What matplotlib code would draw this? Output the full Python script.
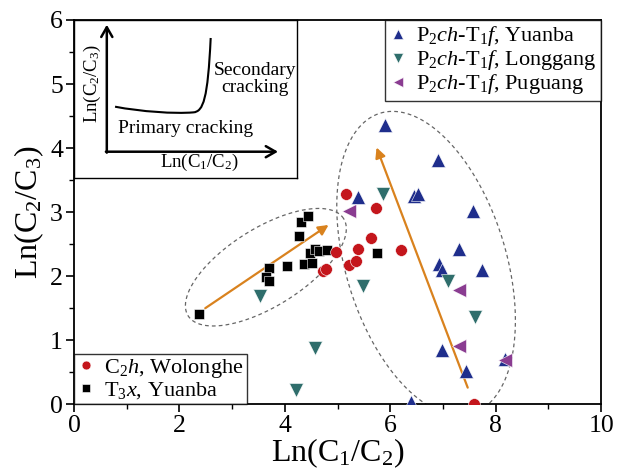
import numpy as np
import matplotlib.pyplot as plt
from matplotlib.path import Path
from matplotlib.patches import PathPatch
from matplotlib.ticker import MultipleLocator

plt.rcParams['font.family'] = ['Liberation Serif', 'DejaVu Serif']
plt.rcParams['mathtext.fontset'] = 'custom'
plt.rcParams['mathtext.rm'] = 'Liberation Serif'
plt.rcParams['mathtext.it'] = 'Liberation Serif:italic'

# Ln(C1/C2) vs Ln(C2/C3)
t3x_yuanba_x = [2.38, 3.69, 3.64, 3.70, 4.04, 4.27, 4.30, 4.43, 4.36, 4.51, 4.47, 4.57, 4.65, 4.80, 5.75]
t3x_yuanba_y = [1.41, 2.12, 1.98, 1.92, 2.16, 2.63, 2.85, 2.94, 2.19, 2.20, 2.36, 2.42, 2.40, 2.41, 2.36]

c2h_wolonghe_x = [4.72, 4.78, 4.98, 5.17, 5.22, 5.35, 5.38, 5.64, 5.73, 6.20, 7.58]
c2h_wolonghe_y = [2.08, 2.11, 2.38, 3.28, 2.17, 2.23, 2.42, 2.59, 3.06, 2.41, 0.00]

yuanba_x = [5.38, 5.91, 6.45, 6.52, 6.90, 7.57, 7.31, 6.93, 6.99, 7.74, 6.99, 7.44, 8.17, 6.39]
yuanba_y = [3.23, 4.36, 3.25, 3.29, 3.81, 3.01, 2.43, 2.19, 2.09, 2.10, 0.85, 0.52, 0.70, 0.03]

longgang_x = [3.53, 4.21, 4.57, 5.49, 5.86, 7.10, 7.60]
longgang_y = [1.69, 0.23, 0.88, 1.85, 3.28, 1.92, 1.37]

puguang_x = [5.21, 7.31, 7.31, 8.17]
puguang_y = [3.01, 1.78, 0.91, 0.69]

# trend arrows (start, end)
arrow_primary = [(2.49, 1.50), (4.83, 2.80)]
arrow_secondary = [(7.47, 0.26), (5.74, 4.01)]

# dashed envelopes: center, semi-axes (in x units), tilt in degrees
env_primary = dict(center=(3.64, 2.14), a=1.74, b=0.74, angle=32)
env_secondary = dict(center=(6.68, 2.20), a=2.98, b=1.52, angle=-73)

blue = '#1f2e8c'
teal = '#2f6e6c'
purple = '#8a3c91'
red = '#c4161c'
orange = '#d9821e'

fig = plt.figure(figsize=(6.19, 4.69), dpi=100)
ax = fig.add_axes([0.1196, 0.138, 0.8514, 0.8194])

def envelope(ax, center, a, b, angle):
    # ellipse drawn in screen-like units, then mapped back to data
    sx, sy = 52.7, 64.05
    t = np.linspace(0, 2 * np.pi, 300)
    th = np.deg2rad(angle)
    ex = a * np.cos(t) * np.cos(th) - b * np.sin(t) * np.sin(th)
    ey = a * np.cos(t) * np.sin(th) + b * np.sin(t) * np.cos(th)
    ax.plot(center[0] + ex, center[1] + ey * sx / sy, ls=(0, (3, 2.5)),
            color='#666666', lw=0.9, zorder=1)

envelope(ax, **env_primary)
envelope(ax, **env_secondary)

for (x0, y0), (x1, y1) in [arrow_primary, arrow_secondary]:
    ax.annotate('', xy=(x1, y1), xytext=(x0, y0),
                arrowprops=dict(arrowstyle='-|>,head_length=0.6,head_width=0.3',
                                color=orange, lw=1.6, shrinkA=0, shrinkB=0),
                zorder=2)

ax.plot(t3x_yuanba_x, t3x_yuanba_y, 's', color='black', ms=7.5, mec='white', mew=0.4,
        ls='none', zorder=3, label='T$_3$$x$, Yuanba')
ax.plot(c2h_wolonghe_x, c2h_wolonghe_y, 'o', color=red, ms=8.5, mec='white', mew=0.4,
        ls='none', zorder=3, label='C$_2$$h$, Wolonghe')
ax.plot(yuanba_x, yuanba_y, '^', color=blue, ms=9.5, mec='white', mew=0.4,
        ls='none', zorder=3, label='P$_2$$ch$-T$_1$$f$, Yuanba')
ax.plot(longgang_x, longgang_y, 'v', color=teal, ms=9.5, mec='white', mew=0.4,
        ls='none', zorder=3, label='P$_2$$ch$-T$_1$$f$, Longgang')
ax.plot(puguang_x, puguang_y, '<', color=purple, ms=9.5, mec='white', mew=0.4,
        ls='none', zorder=3, label='P$_2$$ch$-T$_1$$f$, Puguang')

ax.set_xlim(0, 10)
ax.set_ylim(0, 6)
ax.xaxis.set_major_locator(MultipleLocator(2))
ax.xaxis.set_minor_locator(MultipleLocator(1))
ax.yaxis.set_major_locator(MultipleLocator(1))
ax.yaxis.set_minor_locator(MultipleLocator(0.5))
ax.tick_params(which='major', direction='out', length=6, width=1.2, labelsize=18.5, pad=2)
ax.tick_params(which='minor', direction='out', length=3.5, width=1.0)
for s in ax.spines.values():
    s.set_linewidth(1.3)

ax.set_xlabel('Ln(C$_1$/C$_2$)', fontsize=23, labelpad=-1)
ax.set_ylabel('Ln(C$_2$/C$_3$)', fontsize=23, labelpad=3)

handles, labels = ax.get_legend_handles_labels()
leg1 = ax.legend(handles[2:], labels[2:], loc='upper right', fontsize=16, frameon=True,
                 fancybox=False, edgecolor='black', borderaxespad=0, handlelength=0.8,
                 handletextpad=0.4, labelspacing=0.0, borderpad=0.2, markerscale=0.75)
leg1.get_frame().set_linewidth(1.0)
ax.add_artist(leg1)
leg2 = ax.legend([handles[1], handles[0]], [labels[1], labels[0]], loc='lower left',
                 fontsize=16, frameon=True, fancybox=False, edgecolor='black',
                 borderaxespad=0, handlelength=0.8, handletextpad=0.4,
                 labelspacing=0.0, borderpad=0.15, markerscale=0.75)
leg2.get_frame().set_linewidth(1.0)

# schematic of cracking trend
ins = ax.inset_axes([0, 0.589, 0.423, 0.411])
ins.set_xlim(0, 1)
ins.set_ylim(0, 1)
ins.set_xticks([])
ins.set_yticks([])
for s in ins.spines.values():
    s.set_linewidth(1.0)
ox, oy = 0.147, 0.166
ins.annotate('', xy=(ox, 0.97), xytext=(ox, oy - 0.006),
             arrowprops=dict(arrowstyle='->,head_length=0.7,head_width=0.4',
                             color='black', lw=1.8, shrinkA=0, shrinkB=0))
ins.annotate('', xy=(0.915, oy), xytext=(ox - 0.004, oy),
             arrowprops=dict(arrowstyle='->,head_length=0.7,head_width=0.4',
                             color='black', lw=1.8, shrinkA=0, shrinkB=0))
curve = Path([(0.184, 0.451), (0.30, 0.42), (0.45, 0.405), (0.535, 0.415),
              (0.58, 0.42), (0.60, 0.50), (0.613, 0.886)],
             [Path.MOVETO, Path.CURVE4, Path.CURVE4, Path.CURVE4,
              Path.CURVE4, Path.CURVE4, Path.CURVE4])
ins.add_patch(PathPatch(curve, fc='none', ec='black', lw=1.5))
ins.text(0.812, 0.627, 'Secondary\ncracking', ha='center', va='center', fontsize=14,
         linespacing=0.95)
ins.text(0.502, 0.31, 'Primary cracking', ha='center', va='center', fontsize=14)
ins.text(0.565, 0.095, 'Ln(C$_1$/C$_2$)', ha='center', va='center', fontsize=13.5)
ins.text(0.081, 0.6, 'Ln(C$_2$/C$_3$)', ha='center', va='center', fontsize=13.5, rotation=90)

fig.savefig('out.png', dpi=100)
